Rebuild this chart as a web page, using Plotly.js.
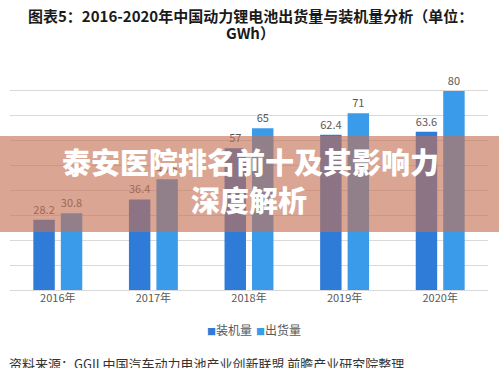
<!DOCTYPE html>
<html>
<head>
<meta charset="utf-8">
<script src="https://cdn.plot.ly/plotly-3.0.1.min.js"></script>
<style>
html,body{margin:0;padding:0;background:#fff;}
#chart{width:499px;height:368px;}
</style>
</head>
<body>
<div id="chart"></div>
<script>
const categories = ['2016年', '2017年', '2018年', '2019年', '2020年'];
const installed = [28.2, 36.4, 57, 62.4, 63.6];
const shipped = [30.8, 44.5, 65, 71, 80];
const seriesNames = ['装机量', '出货量'];
const seriesColors = ['#2f7bd8', '#3a9bea'];
const titleLine1 = '图表5：2016-2020年中国动力锂电池出货量与装机量分析（单位：';
const titleLine2 = 'GWh）';
const sourceText = '资料来源：GGII 中国汽车动力电池产业创新联盟 前瞻产业研究院整理';
const bannerLine1 = '泰安医院排名前十及其影响力';
const bannerLine2 = '深度解析';

const F = '"Noto Sans CJK SC", "Noto Sans", sans-serif';

const traces = [
  {type:'bar', name:seriesNames[0], x:categories, y:installed,
   marker:{color:seriesColors[0]}, text:installed.map(String), textposition:'outside',
   textfont:{size:11,color:'#595959',family:F}, cliponaxis:false},
  {type:'bar', name:seriesNames[1], x:categories, y:shipped,
   marker:{color:seriesColors[1]}, text:shipped.map(String), textposition:'outside',
   textfont:{size:11,color:'#595959',family:F}, cliponaxis:false}
];

const P = (px) => (px-10)/478;
const Q = (py) => (290-py)/224;

const legendAnn = seriesNames.map((n, i) => ({
  text:'<span style="color:' + seriesColors[i] + ';font-size:9px">■</span>' + n,
  xref:'paper', yref:'paper', x:P([205, 254][i]), y:Q(329),
  xanchor:'left', yanchor:'middle', showarrow:false,
  font:{size:12,color:'#595959',family:F}
}));

const layout = {
  width:499, height:368,
  margin:{l:10, r:11, t:66, b:78},
  paper_bgcolor:'#ffffff', plot_bgcolor:'#ffffff',
  font:{family:F, color:'#595959'},
  barmode:'group', bargap:0.425, bargroupgap:0.22,
  showlegend:false,
  xaxis:{showgrid:false, showline:false, ticks:'', tickfont:{size:11,color:'#595959',family:F}},
  yaxis:{range:[0,90], dtick:10, showticklabels:false, showgrid:true, gridcolor:'#d9d9d9',
         gridwidth:1, zeroline:true, zerolinecolor:'#d9d9d9', fixedrange:true},
  shapes:[
    {type:'rect', xref:'paper', yref:'paper', layer:'above',
     x0:-0.03, x1:1.03, y0:Q(232), y1:Q(136),
     fillcolor:'rgba(197,113,82,0.63)', line:{width:0}}
  ],
  annotations:[
    {text:titleLine1, xref:'paper', yref:'paper', x:P(250), y:Q(15),
     xanchor:'center', yanchor:'middle', showarrow:false,
     font:{size:15,color:'#1a1a1a',family:F, weight:'bold'}},
    {text:titleLine2, xref:'paper', yref:'paper', x:P(251), y:Q(32),
     xanchor:'center', yanchor:'middle', showarrow:false,
     font:{size:15,color:'#1a1a1a',family:F, weight:'bold'}},
    {text:bannerLine1, xref:'paper', yref:'paper', x:P(250), y:Q(161),
     xanchor:'center', yanchor:'middle', showarrow:false,
     font:{size:29,color:'#ffffff',family:F, weight:900}},
    {text:bannerLine2, xref:'paper', yref:'paper', x:P(249), y:Q(199),
     xanchor:'center', yanchor:'middle', showarrow:false,
     font:{size:29,color:'#ffffff',family:F, weight:900}},
    {text:sourceText, xref:'paper', yref:'paper', x:P(7), y:Q(363),
     xanchor:'left', yanchor:'middle', showarrow:false,
     font:{size:13,color:'#333333',family:F}}
  ].concat(legendAnn)
};

Plotly.newPlot('chart', traces, layout, {displayModeBar:false, staticPlot:true});
</script>
</body>
</html>
